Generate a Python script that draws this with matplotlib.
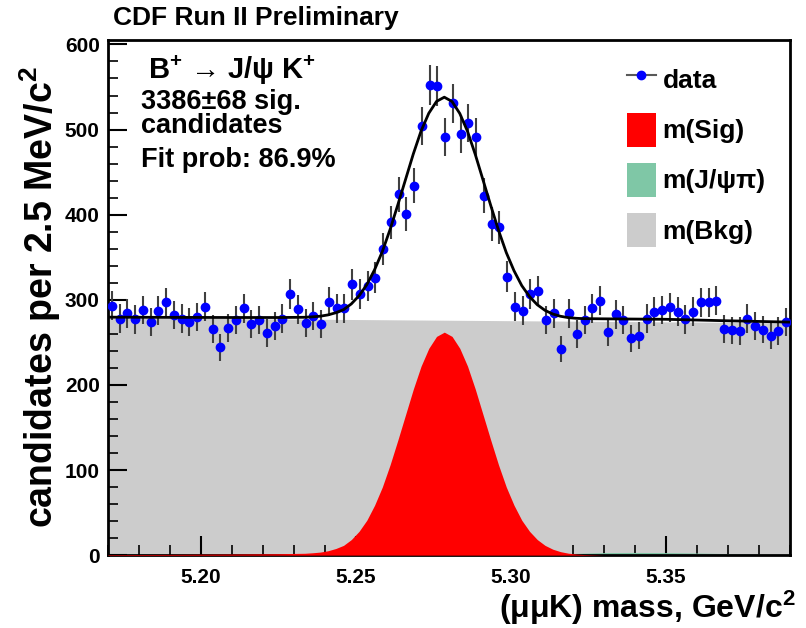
import numpy as np
import matplotlib
matplotlib.use("Agg")
import matplotlib.pyplot as plt
from matplotlib.lines import Line2D
from matplotlib.patches import Patch

plt.rcParams['font.family'] = ['Liberation Sans', 'DejaVu Sans']
plt.rcParams['font.weight'] = 'bold'
plt.rcParams['mathtext.fontset'] = 'custom'
plt.rcParams['mathtext.rm'] = 'Liberation Sans'
plt.rcParams['mathtext.bf'] = 'Liberation Sans:bold'
plt.rcParams['mathtext.default'] = 'bf'

# histogram: 88 bins of 2.5 MeV from 5.17 to 5.39 GeV
mass_lo = 5.17
bin_width = 0.0025
counts = np.array([
    293, 278, 284, 277, 288, 274, 287, 297, 282, 278,
    274, 280, 292, 266, 244, 267, 276, 290, 271, 276,
    261, 269, 278, 307, 289, 273, 281, 272, 298, 290,
    290, 318, 307, 316, 326, 360, 391, 424, 401, 434,
    504, 552, 551, 491, 531, 495, 508, 491, 422, 389,
    385, 327, 292, 287, 307, 310, 276, 284, 242, 284,
    260, 276, 290, 299, 262, 283, 276, 255, 258, 278,
    286, 288, 291, 286, 277, 286, 297, 297, 299, 266,
    264, 263, 278, 269, 265, 258, 263, 274])
centers = mass_lo + (np.arange(len(counts)) + 0.5) * bin_width

# fit components
bkg_mass = [5.17, 5.39]
bkg_level = [279, 273]

sig_core_mass = np.linspace(5.2335, 5.3235, 37)
sig_core = [2.2, 2.8, 3.6, 5.2, 7.8, 11.5, 18.3, 28, 41, 58.6,
            80, 106, 135, 165, 195, 222, 243, 257, 262, 257,
            243, 222, 195, 165, 135, 106, 80, 58.6, 41, 28,
            18.3, 11.5, 7.0, 4.1, 2.3, 1.3, 0.7]
sig_mass = np.concatenate([[5.17, 5.19, 5.21, 5.225], sig_core_mass,
                           [5.33, 5.35, 5.37, 5.39]])
sig_level = np.concatenate([[0.6, 0.9, 1.3, 1.7], sig_core, [0, 0, 0, 0]])

jpsipi_mass = [5.30, 5.31, 5.32, 5.33, 5.34, 5.35, 5.36, 5.37, 5.38, 5.39]
jpsipi_level = [0, 0.8, 2.0, 3.0, 3.2, 3.0, 2.5, 1.8, 1.2, 0.8]

bkg_on_grid = np.interp(sig_mass, bkg_mass, bkg_level)
jpsipi_on_grid = np.interp(sig_mass, jpsipi_mass, jpsipi_level)
total = bkg_on_grid + sig_level + jpsipi_on_grid

gray = '#cccccc'
green = '#7fc7a6'

fig = plt.figure(figsize=(8.06, 6.28), dpi=100)
ax = fig.add_axes([0.134, 0.116, 0.846, 0.820])

ax.fill_between(bkg_mass, 0, bkg_level, color=gray, lw=0, zorder=1)
ax.fill_between(jpsipi_mass, 0, jpsipi_level, color=green, lw=0, zorder=2)
ax.fill_between(sig_mass, 0, sig_level, color='red', lw=0, zorder=3)

ax.errorbar(centers, counts, yerr=np.sqrt(counts), fmt='o', color='blue',
            ms=6, ecolor='0.25', elinewidth=1.5, capsize=0, zorder=4)
ax.plot(sig_mass, total, color='black', lw=2, zorder=5)

ax.set_xlim(5.17, 5.39)
ax.set_ylim(0, 605)
ax.set_xticks([5.20, 5.25, 5.30, 5.35])
ax.set_xticklabels(['5.20', '5.25', '5.30', '5.35'])
ax.set_xticks(np.arange(5.17, 5.395, 0.01), minor=True)
ax.set_yticks(np.arange(0, 601, 100))
ax.set_yticks(np.arange(0, 601, 20), minor=True)
ax.tick_params(which='major', direction='in', length=14, width=1.5,
               labelsize=15, top=False, right=False)
ax.tick_params(which='minor', direction='in', length=7, width=1.2,
               top=False, right=False)
ax.tick_params(axis='x', which='major', pad=9)
ax.tick_params(axis='y', which='major', pad=6)
for lab in ax.get_xticklabels() + ax.get_yticklabels():
    lab.set_fontweight('bold')
for s in ax.spines.values():
    s.set_linewidth(2)

fig.text(40 / 806, 1 - 297 / 628, 'candidates per 2.5 MeV/c$^{2}$',
         rotation=90, ha='center', va='center', fontsize=27, fontweight='bold')
fig.text(796 / 806, 1 - 608 / 628, '(μμK) mass, GeV/c$^{2}$',
         ha='right', va='center', fontsize=23, fontweight='bold')
fig.text(113 / 806, 1 - 18 / 628, 'CDF Run II Preliminary',
         ha='left', va='center', fontsize=19, fontweight='bold')

fig.text(148 / 806, 1 - 70 / 628, 'B$^{+}$ → J/ψ K$^{+}$',
         ha='left', va='center', fontsize=21, fontweight='bold')
fig.text(141 / 806, 1 - 102 / 628, '3386±68 sig.',
         ha='left', va='center', fontsize=19.5, fontweight='bold')
fig.text(141 / 806, 1 - 126 / 628, 'candidates',
         ha='left', va='center', fontsize=19.5, fontweight='bold')
fig.text(141 / 806, 1 - 160 / 628, 'Fit prob: 86.9%',
         ha='left', va='center', fontsize=19.5, fontweight='bold')

handles = [Line2D([], [], color='0.35', lw=1.5, marker='o', ms=6,
                  mfc='blue', mec='blue'),
           Patch(fc='red'), Patch(fc=green), Patch(fc=gray)]
labels = ['data', 'm(Sig)', 'm(J/ψπ)', 'm(Bkg)']
ax.legend(handles, labels, loc='upper left', bbox_to_anchor=(0.761, 0.957),
          frameon=False, prop={'family': ['Liberation Sans', 'DejaVu Sans'],
                               'weight': 'bold', 'size': 19},
          handlelength=1.1, handleheight=1.6, handletextpad=0.25,
          labelspacing=0.62, borderpad=0, borderaxespad=0)

fig.savefig('out.png', dpi=100)
